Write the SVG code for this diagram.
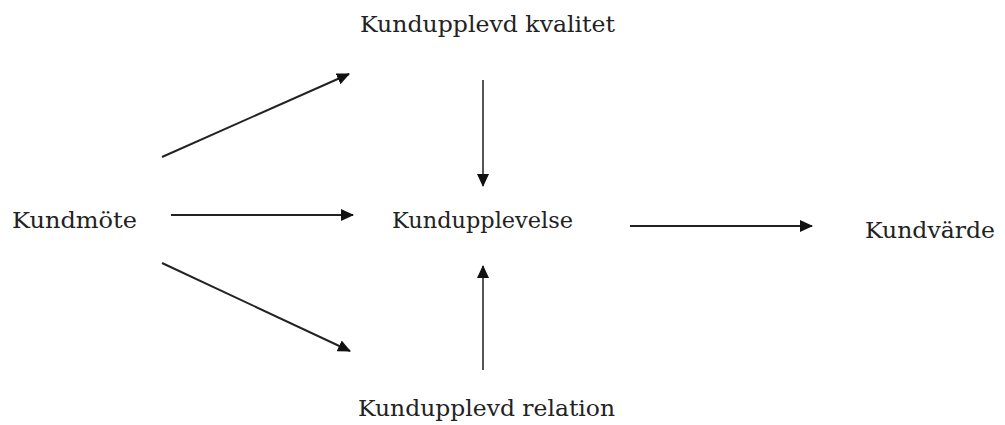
<svg xmlns="http://www.w3.org/2000/svg" width="1005" height="425" viewBox="0 0 1005 425">
  <style>
    .lbl { font-family: "DejaVu Serif", "Liberation Serif", serif; font-size: 23px; fill: #222; }
    .conn { stroke: #222; stroke-width: 2; fill: none; marker-end: url(#ah); }
    .v { stroke: #555; }
  </style>
  <defs>
    <marker id="ah" markerUnits="userSpaceOnUse" markerWidth="13" markerHeight="12" refX="12" refY="6" orient="auto">
      <path d="M0,0 L13,6 L0,12 z" fill="#111"/>
    </marker>
  </defs>
  <rect width="1005" height="425" fill="#fff"/>
  <g id="kundupplevd-kvalitet"><text class="lbl" x="360" y="32" textLength="255" lengthAdjust="spacingAndGlyphs">Kundupplevd kvalitet</text></g>
  <g id="kundmote"><text class="lbl" x="12" y="228" textLength="125" lengthAdjust="spacingAndGlyphs">Kundmöte</text></g>
  <g id="kundupplevelse"><text class="lbl" x="392" y="228" textLength="181" lengthAdjust="spacingAndGlyphs">Kundupplevelse</text></g>
  <g id="kundvarde"><text class="lbl" x="865" y="238" textLength="130" lengthAdjust="spacingAndGlyphs">Kundvärde</text></g>
  <g id="kundupplevd-relation"><text class="lbl" x="358" y="416" textLength="257" lengthAdjust="spacingAndGlyphs">Kundupplevd relation</text></g>
  <g id="connectors">
    <line class="conn" x1="162" y1="157" x2="349" y2="74"/>
    <line class="conn" x1="171" y1="215" x2="353" y2="215"/>
    <line class="conn" x1="162" y1="263" x2="350" y2="351"/>
    <line class="conn v" x1="483" y1="80" x2="483" y2="186"/>
    <line class="conn v" x1="483" y1="370" x2="483" y2="266"/>
    <line class="conn" x1="630" y1="226" x2="812" y2="226"/>
  </g>
</svg>
